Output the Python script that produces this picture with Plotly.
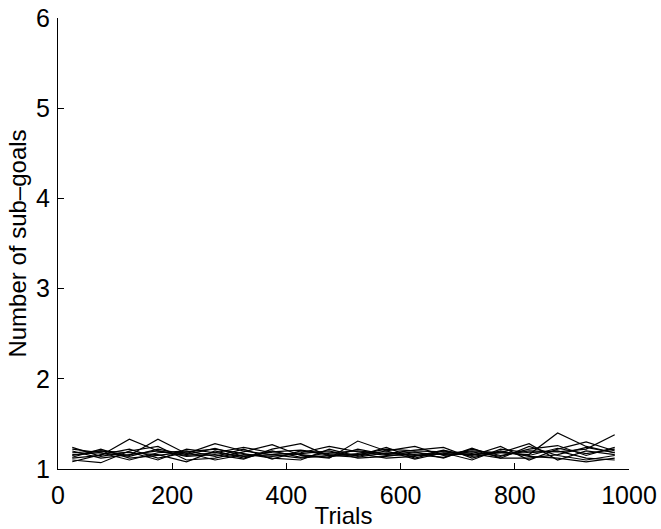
import plotly.graph_objects as go

# Trial index at which each run was sampled
trials = [25, 75, 125, 175, 225, 275, 325, 375, 425, 475,
          525, 575, 625, 675, 725, 775, 825, 875, 925, 975]

# Average number of sub-goals per run
run_01 = [1.12, 1.15, 1.33, 1.20, 1.15, 1.18, 1.14, 1.16, 1.12, 1.15, 1.13, 1.18, 1.15, 1.17, 1.20, 1.18, 1.16, 1.40, 1.25, 1.18]
run_02 = [1.18, 1.20, 1.15, 1.33, 1.17, 1.28, 1.20, 1.16, 1.18, 1.25, 1.19, 1.15, 1.16, 1.13, 1.22, 1.15, 1.20, 1.19, 1.22, 1.38]
run_03 = [1.10, 1.07, 1.20, 1.25, 1.10, 1.12, 1.19, 1.27, 1.15, 1.12, 1.31, 1.20, 1.25, 1.15, 1.17, 1.12, 1.25, 1.15, 1.10, 1.15]
run_04 = [1.22, 1.18, 1.10, 1.18, 1.20, 1.14, 1.22, 1.11, 1.20, 1.16, 1.15, 1.24, 1.12, 1.20, 1.15, 1.25, 1.10, 1.22, 1.30, 1.20]
run_05 = [1.15, 1.20, 1.18, 1.16, 1.08, 1.20, 1.12, 1.20, 1.13, 1.18, 1.20, 1.17, 1.21, 1.24, 1.12, 1.20, 1.14, 1.12, 1.08, 1.12]
run_06 = [1.08, 1.16, 1.22, 1.12, 1.18, 1.10, 1.16, 1.14, 1.17, 1.20, 1.12, 1.14, 1.18, 1.16, 1.19, 1.14, 1.22, 1.26, 1.15, 1.24]
run_07 = [1.20, 1.12, 1.16, 1.20, 1.14, 1.16, 1.11, 1.22, 1.28, 1.14, 1.17, 1.12, 1.14, 1.21, 1.14, 1.18, 1.28, 1.10, 1.20, 1.16]
run_08 = [1.13, 1.22, 1.12, 1.15, 1.19, 1.22, 1.17, 1.12, 1.10, 1.22, 1.14, 1.20, 1.11, 1.18, 1.10, 1.22, 1.18, 1.20, 1.12, 1.10]
run_09 = [1.24, 1.14, 1.19, 1.10, 1.22, 1.18, 1.24, 1.18, 1.16, 1.13, 1.22, 1.16, 1.19, 1.12, 1.23, 1.12, 1.12, 1.16, 1.24, 1.18]
run_10 = [1.16, 1.18, 1.14, 1.22, 1.16, 1.23, 1.14, 1.19, 1.21, 1.17, 1.16, 1.22, 1.20, 1.19, 1.16, 1.19, 1.15, 1.23, 1.17, 1.22]

runs = [run_01, run_02, run_03, run_04, run_05, run_06, run_07, run_08, run_09, run_10]

x_ticks = [0, 200, 400, 600, 800, 1000]
y_ticks = [1, 2, 3, 4, 5, 6]

fig = go.Figure()
for r in runs:
    fig.add_trace(go.Scatter(x=trials, y=r, mode="lines",
                             line=dict(color="black", width=1.2),
                             showlegend=False, hoverinfo="skip"))

tick_font = dict(family="Liberation Sans, Arial, sans-serif", size=25, color="black")
title_font = dict(family="Liberation Sans, Arial, sans-serif", size=24, color="black")

fig.update_layout(
    width=661, height=529,
    margin=dict(l=58, r=32, t=18, b=60),
    paper_bgcolor="white", plot_bgcolor="white",
    font=tick_font,
    xaxis=dict(range=[0, 1000], tickvals=x_ticks, ticks="inside", ticklen=6,
               tickcolor="black", showline=True, linecolor="black", linewidth=1,
               showgrid=False, zeroline=False, mirror=False, automargin=False,
               tickfont=tick_font, ticklabelstandoff=4,
               title=dict(text="Trials", standoff=0, font=title_font)),
    yaxis=dict(range=[1, 6], tickvals=y_ticks, ticks="inside", ticklen=6,
               tickcolor="black", showline=True, linecolor="black", linewidth=1,
               showgrid=False, zeroline=False, mirror=False, automargin=False,
               tickfont=tick_font, ticklabelstandoff=2,
               title=dict(text="Number of sub–goals", standoff=2, font=title_font)),
)

fig.write_html("out.html")
